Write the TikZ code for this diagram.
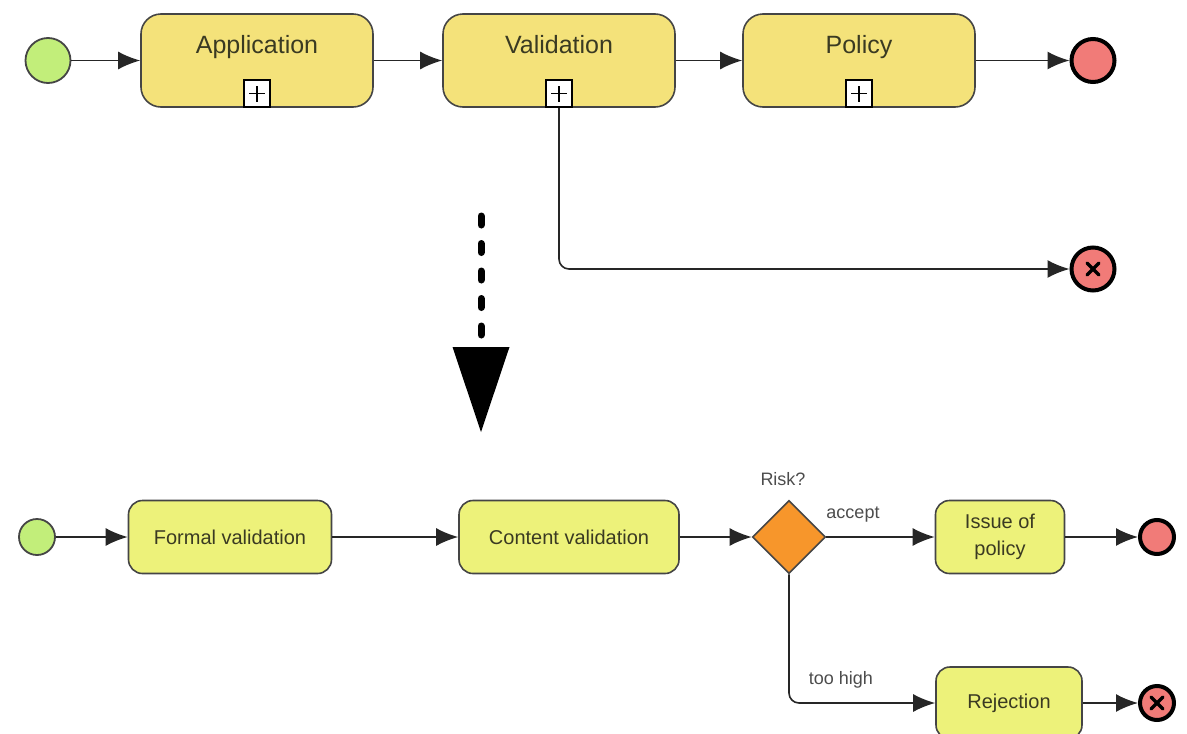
\documentclass[tikz,border=0pt]{standalone}
\usepackage{fontspec}
\setmainfont{Liberation Sans}
\usetikzlibrary{arrows.meta,shapes.geometric,positioning}

\definecolor{startgreen}{HTML}{C2EE7A}
\definecolor{endred}{HTML}{F17B78}
\definecolor{subyellow}{HTML}{F4E27A}
\definecolor{taskyellow}{HTML}{EDF27A}
\definecolor{gateorange}{HTML}{F7962B}
\definecolor{edgegray}{HTML}{454545}
\definecolor{inktext}{HTML}{3A3A22}

\tikzset{
    flow/.style={line width=1.6pt, draw=black!85, -{Latex[length=22pt,width=18pt]}},
    start/.style={circle, draw=edgegray, line width=1.8pt, fill=startgreen, inner sep=0pt},
    finish/.style={circle, draw=black, line width=4pt, fill=endred, inner sep=0pt},
    errorend/.style={finish, path picture={
        \draw[line width=3.5pt, line cap=round]
            ([shift={(-6pt,-6pt)}]path picture bounding box.center) -- ([shift={(6pt,6pt)}]path picture bounding box.center)
            ([shift={(-6pt,6pt)}]path picture bounding box.center) -- ([shift={(6pt,-6pt)}]path picture bounding box.center);}},
    subprocess/.style={draw=edgegray, line width=1.6pt, fill=subyellow, rounded corners=20pt,
        minimum width=232pt, minimum height=93pt, inner sep=0pt},
    subtext/.style={yshift=14pt, inner sep=0pt, text height=18pt, text depth=5pt, text=inktext,
        font=\fontsize{25pt}{29pt}\selectfont},
    plusbox/.style={draw=black, fill=white, line width=1.6pt, minimum width=26pt, minimum height=27pt,
        inner sep=0pt, anchor=south, path picture={
        \draw[line width=1.4pt]
            ([xshift=-8pt]path picture bounding box.center) -- ([xshift=8pt]path picture bounding box.center)
            ([yshift=-8pt]path picture bounding box.center) -- ([yshift=8pt]path picture bounding box.center);}},
    task/.style={draw=edgegray, line width=1.6pt, fill=taskyellow, rounded corners=14pt,
        minimum height=73pt, inner sep=0pt, align=center, text=inktext,
        font=\fontsize{20pt}{27pt}\selectfont},
    gateway/.style={diamond, draw=edgegray, line width=1.6pt, fill=gateorange, inner sep=0pt,
        minimum width=73pt, minimum height=73pt},
    flowlabel/.style={text=black!70, font=\fontsize{18pt}{22pt}\selectfont}
}

\begin{document}
\begin{tikzpicture}[x=1pt, y=-1pt]
        \useasboundingbox (0,0) rectangle (1187,734);

        % main process
        \node[start, minimum size=45pt] (mainStart) at (48,60.5) {};
        \node[subprocess, label={[subtext, name=appText]center:Application}] (application) at (257,60.5) {};
        \node[subprocess, label={[subtext, name=valText]center:Validation}] (validation) at (559,60.5) {};
        \node[subprocess, label={[subtext, name=polText]center:Policy}] (policy) at (859,60.5) {};
        \node[finish, minimum size=43pt] (mainEnd) at (1093,60.5) {};
        \node[errorend, minimum size=43pt] (mainError) at (1093,269) {};

        \node[plusbox] (appPlus) at (application.south) {};
        \node[plusbox] (valPlus) at (validation.south) {};
        \node[plusbox] (polPlus) at (policy.south) {};

        \draw[flow] (mainStart) -- (application);
        \draw[flow] (application) -- (validation);
        \draw[flow] (validation) -- (policy);
        \draw[flow] (policy) -- (mainEnd);
        \draw[flow, rounded corners=10pt] (valPlus.south) |- (mainError);

        % drill down
        \coordinate (zoomFrom) at (481,216);
        \coordinate (zoomTo) at (481,352);
        \coordinate (zoomTip) at (481,432);
        \draw[line width=7pt, line cap=round, dash pattern=on 9pt off 18.5pt] (zoomFrom) -- (zoomTo);
        \fill (zoomTip) -- ++(-28.5,-85) -- ++(57,0) -- cycle;

        % validation sub-process
        \node[start, minimum size=36pt] (subStart) at (37,537) {};
        \node[task, minimum width=203pt] (formal) at (230,537) {Formal validation};
        \node[task, minimum width=220pt] (content) at (569,537) {Content validation};
        \node[gateway] (risk) at (789,537) {};
        \node[flowlabel] (riskText) at (783,479) {Risk?};
        \node[task, minimum width=129pt] (issue) at (1000,537) {Issue of\\policy};
        \node[task, minimum width=146pt, minimum height=72pt] (rejection) at (1009,703) {Rejection};
        \node[finish, minimum size=34pt] (subEnd) at (1157,537) {};
        \node[errorend, minimum size=34pt] (subError) at (1157,703) {};

        \draw[flow] (subStart) -- (formal);
        \draw[flow] (formal) -- (content);
        \draw[flow] (content) -- (risk);
        \draw[flow] (risk) -- (issue);
        \draw[flow, rounded corners=10pt] (risk.south) |- (rejection);
        \draw[flow] (issue) -- (subEnd);
        \draw[flow] (rejection) -- (subError);

        \node[flowlabel] (acceptText) at (853,515) {accept};
        \node[flowlabel] (highText) at (841,680) {too high};

\end{tikzpicture}
\end{document}
